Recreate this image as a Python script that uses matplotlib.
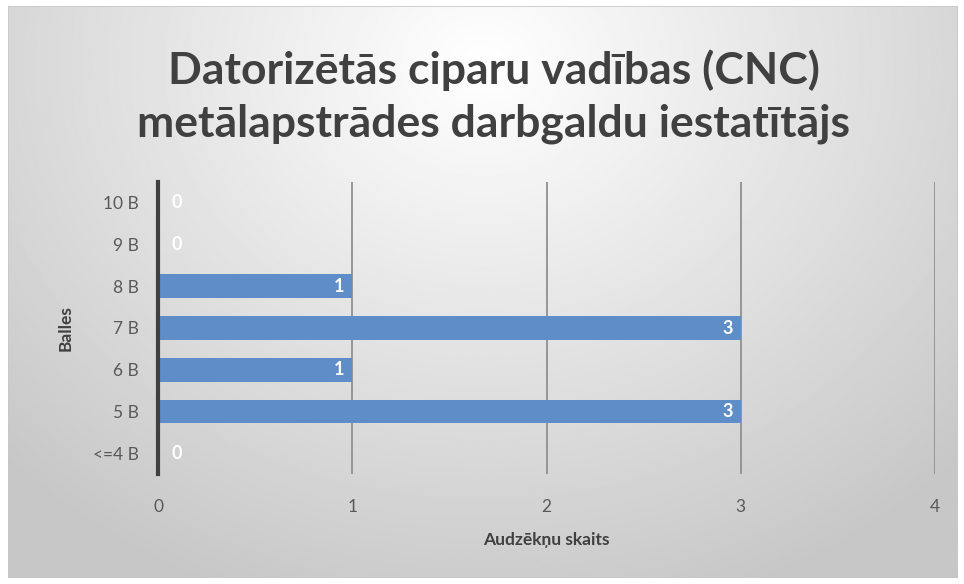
import numpy as np
import matplotlib.pyplot as plt
from matplotlib.patches import Rectangle

categories = ["<=4 B", "5 B", "6 B", "7 B", "8 B", "9 B", "10 B"]
counts = [0, 3, 1, 3, 1, 0, 0]
xticks = [0, 1, 2, 3, 4]

title = "Datorizētās ciparu vadības (CNC)\nmetālapstrādes darbgaldu iestatītājs"
xlabel = "Audzēkņu skaits"
ylabel = "Balles"

W, H = 964, 584
fig = plt.figure(figsize=(W / 100, H / 100), dpi=100)
fig.patch.set_facecolor("white")

# radial gradient background of the chart area
bg = fig.add_axes([8 / W, 6 / H, 950 / W, 572 / H])
yy, xx = np.mgrid[0:1:300j, 0:1:500j]
r = np.sqrt(((xx - 0.5) / 0.7) ** 2 + ((yy - 0.1) / 1.0) ** 2)
r = np.clip(r, 0, 1)
shade = 1.0 - 0.22 * r
bg.imshow(shade, cmap="gray", vmin=0, vmax=1, aspect="auto",
          extent=[0, 1, 1, 0], interpolation="bilinear")
bg.add_patch(Rectangle((0, 0), 1, 1, transform=bg.transAxes, fill=False,
                       edgecolor="#c8c8c8", lw=1.2))
bg.set_axis_off()

font = "Lato"

ax = fig.add_axes([158 / W, 110 / H, 777 / W, 292 / H])
ax.patch.set_alpha(0)
y = np.arange(len(categories))
ax.barh(y, counts, height=0.57, color="#5f8dc7", zorder=3)
ax.set_xlim(0, 4)
ax.set_ylim(-0.5, len(categories) - 0.5)
ax.set_xticks(xticks)
ax.set_yticks(y)
ax.set_yticklabels(categories)
ax.grid(axis="x", color="#909090", lw=1.3, zorder=1)
ax.tick_params(length=0, labelsize=12.5, colors="#595959")
ax.tick_params(axis="x", pad=18)
ax.tick_params(axis="y", pad=14)
for lab in ax.get_xticklabels() + ax.get_yticklabels():
    lab.set_fontfamily(font)
for s in ["top", "right", "bottom"]:
    ax.spines[s].set_visible(False)
ax.spines["left"].set_color("#404040")
ax.spines["left"].set_linewidth(3)
ax.spines["left"].set_zorder(4)

for yi, v in zip(y, counts):
    if v > 0:
        ax.text(v - 0.04, yi, str(v), ha="right", va="center", color="white",
                fontsize=13, fontweight="bold", fontfamily=font, zorder=5)
    else:
        ax.text(0.07, yi, str(v), ha="left", va="center", color="white",
                fontsize=13, fontweight="bold", fontfamily=font, zorder=5)

ax.set_xlabel(xlabel, fontsize=12.5, fontweight="bold", color="#404040",
              fontfamily=font, labelpad=12)
ax.set_ylabel(ylabel, fontsize=12.5, fontweight="bold", color="#404040",
              fontfamily=font, labelpad=14)

fig.text(494 / W, 1 - 97 / H, title, ha="center", va="center", fontsize=32,
         fontweight="bold", color="#404040", fontfamily=font, linespacing=1.38)

fig.savefig("out.png", dpi=100)
